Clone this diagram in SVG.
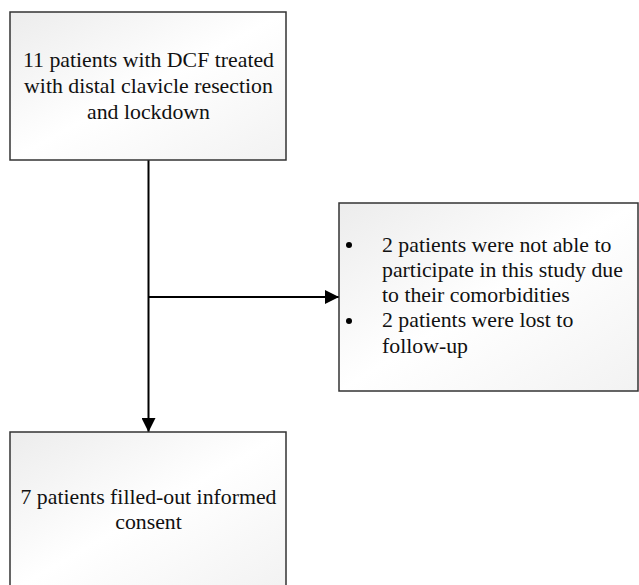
<svg xmlns="http://www.w3.org/2000/svg" width="639" height="585" viewBox="0 0 639 585">
<defs>
<linearGradient id="g" x1="0" y1="0" x2="1" y2="1">
<stop offset="0" stop-color="#ececec"/>
<stop offset="0.5" stop-color="#ffffff"/>
<stop offset="1" stop-color="#f2f2f2"/>
</linearGradient>
<marker id="arr" markerWidth="14" markerHeight="14" refX="14" refY="7" orient="auto" markerUnits="userSpaceOnUse">
<path d="M0,0 L14,7 L0,14 Z" fill="#000"/>
</marker>
</defs>
<style>
.box{fill:url(#g);stroke:#333;stroke-width:1.5}
.t{font-family:"Liberation Serif",serif;font-size:21.8px;fill:#111}
.c{text-anchor:middle}
.line{stroke:#000;stroke-width:2;fill:none}
</style>
<rect width="639" height="585" fill="#fff"/>
<g id="connectors">
<line class="line" x1="148.5" y1="160" x2="148.5" y2="432" marker-end="url(#arr)"/>
<line class="line" x1="148.5" y1="297" x2="339" y2="297" marker-end="url(#arr)"/>
</g>
<g id="node1">
<rect class="box" x="10" y="12" width="276" height="148"/>
<text class="t c" x="148.5" y="67">11 patients with DCF treated</text>
<text class="t c" x="148.5" y="93">with distal clavicle resection</text>
<text class="t c" x="148.5" y="119">and lockdown</text>
</g>
<g id="node2">
<rect class="box" x="339" y="203" width="299" height="188"/>
<circle cx="349" cy="245" r="3" fill="#000"/>
<circle cx="349" cy="321" r="3" fill="#000"/>
<text class="t" x="382" y="252">2 patients were not able to</text>
<text class="t" x="382" y="277">participate in this study due</text>
<text class="t" x="382" y="302">to their comorbidities</text>
<text class="t" x="382" y="327">2 patients were lost to</text>
<text class="t" x="382" y="353">follow-up</text>
</g>
<g id="node3">
<rect class="box" x="10" y="432" width="276" height="160"/>
<text class="t c" x="148.5" y="504">7 patients filled-out informed</text>
<text class="t c" x="148.5" y="529">consent</text>
</g>
</svg>
